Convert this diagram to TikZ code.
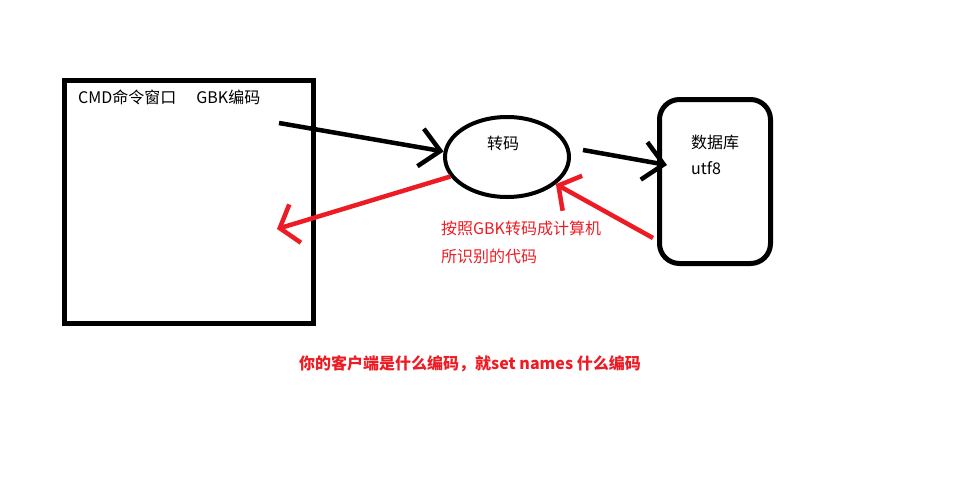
\documentclass[tikz,border=0pt]{standalone}
\usepackage{fontspec}
\setmainfont{Noto Sans CJK SC}
\usepackage{xcolor}
\usetikzlibrary{arrows.meta, shapes.geometric, positioning}
\definecolor{paintred}{RGB}{237,28,36}

\begin{document}
\begin{tikzpicture}[
            x=1pt,
            y=-1pt,
            every node/.style={
                    inner sep=0pt,
                    font=\fontsize{16}{19}\selectfont
                },
            window box/.style={
                    draw=black,
                    line width=5pt,
                    minimum width=249pt,
                    minimum height=243pt
                },
            codec ellipse/.style={
                    draw=black,
                    ellipse,
                    line width=4pt,
                    minimum width=124pt,
                    minimum height=80pt
                },
            db box/.style={
                    draw=black,
                    rounded corners=20pt,
                    line width=5pt,
                    minimum width=111pt,
                    minimum height=164pt
                },
            black arrow/.style={
                    draw=black,
                    line width=4.5pt,
                    -{Straight Barb[length=20pt,width=38pt]}
                },
            red arrow/.style={
                    draw=paintred,
                    line width=4.5pt,
                    -{Straight Barb[length=16pt,width=40pt]}
                },
            plain label/.style={
                    anchor=west,
                    text=black
                },
            red label/.style={
                    anchor=west,
                    text=paintred
                }
        ]

        \useasboundingbox (0, 0) rectangle (953, 501);

        % Boxes
        \node[window box] (cmd) at (189, 202) {};
        \node[codec ellipse] (codec) at (507, 157) {};
        \node[db box] (db) at (715, 181.5) {};

        % Texts in boxes
        \node[plain label] (cmd-label) at (78, 97) {CMD命令窗口\hspace{20pt}GBK编码};
        \node[plain label] (codec-label) at (487, 143) {转码};
        \node[plain label] (db-label) at (691, 142) {数据库};
        \node[plain label] (db-charset) at (691, 168) {utf8};

        % Free ends
        \coordinate (cmd-out) at (279, 123);
        \coordinate (cmd-in) at (277, 229);
        \coordinate (codec-out) at (583, 150);
        \coordinate (db-in) at (667, 165);
        \coordinate (db-out) at (653, 238);

        % Connections
        \draw[black arrow] (cmd-out) -- (codec.175);
        \draw[black arrow] (codec-out) -- (db-in);
        \draw[red arrow] (db-out) -- (codec.331);
        \draw[red arrow] (codec.199) -- (cmd-in);

        % Notes
        \node[red label] (note-1) at (441, 228) {按照GBK转码成计算机};
        \node[red label] (note-2) at (441, 256) {所识别的代码};
        \node[red label, font=\fontsize{16}{19}\selectfont\bfseries] (note-3) at (299, 364) {你的客户端是什么编码，就set names 什么编码};

    \end{tikzpicture}
\end{document}
